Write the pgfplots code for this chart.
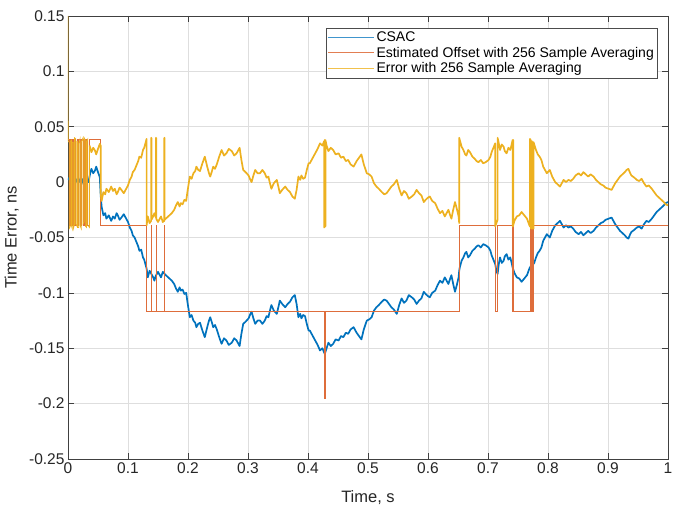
\documentclass[border=0pt]{standalone}
\usepackage{pgfplots}
\pgfplotsset{compat=1.18}
\usepackage{fontspec}
\setmainfont{Liberation Sans}
\definecolor{mblue}{rgb}{0,0.447,0.741}
\definecolor{morange}{rgb}{0.85,0.325,0.098}
\definecolor{myellow}{rgb}{0.929,0.694,0.125}
\definecolor{mtext}{rgb}{0.15,0.15,0.15}
\begin{document}
\begin{tikzpicture}
\begin{axis}[
  scale only axis, width=600pt, height=443pt,
  xmin=0, xmax=1, ymin=-0.25, ymax=0.15,
  xtick={0,0.1,...,1.01}, ytick={-0.25,-0.2,...,0.16},
  /pgf/number format/assume math mode=true,
  /pgf/number format/fixed, /pgf/number format/precision=2,
  tick label style={font=\fontsize{15.5}{17}\selectfont, text=mtext},
  label style={font=\fontsize{16.5}{18}\selectfont, text=mtext},
  xlabel={Time, s}, ylabel={Time Error, ns},
  xlabel style={at={(axis description cs:0.5,-0.088)}, anchor=center},
  ylabel style={at={(axis description cs:-0.094,0.5)}, anchor=center},
  grid=major, major grid style={color=black!13, line width=0.5pt},
  axis line style={color=black!75, line width=0.6pt},
  major tick length=6pt, tick style={color=black!75, line width=0.6pt},
  legend cell align=left,
  legend style={at={(rel axis cs:1,1)}, anchor=north east, xshift=-11pt, yshift=-12pt,
    font=\fontsize{14}{16}\selectfont, draw=black!70,
    inner xsep=1pt, inner ysep=2pt, row sep=1pt,
    nodes={inner xsep=2pt, inner ysep=1.5pt}},
  legend image code/.code={\draw[#1] (0pt,0pt) -- (46pt,0pt);},
]
\addlegendimage{draw=mblue!75, line width=0.9pt}
\addlegendentry{CSAC}
\addlegendimage{draw=morange!75, line width=0.9pt}
\addlegendentry{Estimated Offset with 256 Sample Averaging}
\addlegendimage{draw=myellow!80, line width=0.9pt}
\addlegendentry{Error with 256 Sample Averaging}
\addplot[draw=mblue, line width=1.7pt, line join=round, forget plot] coordinates {
(0.000,0.002)(0.003,0.0045)(0.006,0.001)(0.009,0.003)(0.012,-0.001)(0.014,0.0015)(0.017,0.004)(0.020,0.000)(0.023,0.003)(0.026,-0.002)(0.028,-0.003)(0.031,0.002)(0.034,0.000)(0.037,0.008)(0.039,0.012)(0.042,0.008)(0.045,0.0105)(0.047,0.014)(0.050,0.009)(0.053,0.0045)(0.0545,-0.012)(0.056,-0.022)(0.059,-0.030)(0.062,-0.028)(0.064,-0.033)(0.068,-0.030)(0.072,-0.035)(0.075,-0.031)(0.078,-0.033)(0.081,-0.028)(0.083,-0.030)(0.086,-0.034)(0.089,-0.032)(0.093,-0.029)(0.097,-0.033)(0.100,-0.036)(0.103,-0.041)(0.106,-0.044)(0.108,-0.048)(0.111,-0.050)(0.114,-0.054)(0.117,-0.058)(0.119,-0.062)(0.122,-0.061)(0.125,-0.068)(0.127,-0.070)(0.129,-0.074)(0.131,-0.078)(0.133,-0.086)(0.136,-0.080)(0.138,-0.082)(0.139,-0.083)(0.142,-0.086)(0.144,-0.089)(0.146,-0.085)(0.147,-0.084)(0.150,-0.081)(0.153,-0.084)(0.155,-0.086)(0.158,-0.081)(0.160,-0.082)(0.161,-0.083)
(0.165,-0.085)(0.169,-0.087)(0.173,-0.089)(0.177,-0.092)(0.180,-0.096)(0.183,-0.099)(0.186,-0.095)(0.188,-0.098)(0.191,-0.097)(0.194,-0.101)(0.197,-0.100)(0.199,-0.108)(0.203,-0.122)(0.206,-0.120)(0.209,-0.125)(0.212,-0.127)(0.214,-0.131)(0.217,-0.128)(0.220,-0.127)(0.224,-0.134)(0.228,-0.140)(0.232,-0.131)(0.235,-0.125)(0.237,-0.122)(0.240,-0.127)(0.242,-0.131)(0.245,-0.129)(0.248,-0.133)(0.252,-0.140)(0.256,-0.146)(0.260,-0.141)(0.264,-0.143)(0.268,-0.147)(0.273,-0.145)(0.277,-0.141)(0.281,-0.143)(0.284,-0.146)(0.286,-0.148)(0.289,-0.137)(0.292,-0.128)(0.296,-0.126)(0.301,-0.123)(0.304,-0.119)(0.306,-0.117)(0.309,-0.123)(0.312,-0.128)(0.316,-0.125)(0.320,-0.125)(0.324,-0.128)(0.328,-0.125)(0.331,-0.121)(0.334,-0.122)(0.337,-0.115)(0.339,-0.111)(0.343,-0.116)(0.348,-0.119)(0.351,-0.112)(0.353,-0.107)(0.357,-0.110)(0.362,-0.113)(0.366,-0.110)(0.370,-0.108)(0.374,-0.104)(0.378,-0.102)(0.381,-0.110)(0.384,-0.122)(0.387,-0.119)(0.389,-0.123)(0.392,-0.120)(0.395,-0.121)(0.398,-0.128)
(0.401,-0.134)(0.403,-0.134)(0.406,-0.137)(0.409,-0.140)(0.412,-0.143)(0.416,-0.147)(0.420,-0.152)(0.424,-0.150)(0.427,-0.154)(0.428,-0.155)(0.431,-0.150)(0.434,-0.145)(0.438,-0.148)(0.442,-0.146)(0.446,-0.142)(0.451,-0.143)(0.455,-0.139)(0.459,-0.140)(0.463,-0.136)(0.467,-0.137)(0.471,-0.133)(0.476,-0.131)(0.481,-0.136)(0.485,-0.139)(0.489,-0.142)(0.493,-0.133)(0.498,-0.125)(0.502,-0.124)(0.506,-0.122)(0.510,-0.116)(0.514,-0.113)(0.518,-0.111)(0.523,-0.108)(0.527,-0.106)(0.531,-0.107)(0.535,-0.110)(0.539,-0.113)(0.543,-0.115)(0.548,-0.119)(0.552,-0.111)(0.556,-0.105)(0.560,-0.109)(0.564,-0.107)(0.568,-0.102)(0.573,-0.104)(0.577,-0.106)(0.581,-0.110)(0.585,-0.107)(0.589,-0.105)(0.593,-0.099)(0.596,-0.101)(0.600,-0.103)(0.603,-0.104)(0.607,-0.100)(0.612,-0.098)(0.616,-0.093)(0.620,-0.089)(0.624,-0.091)(0.628,-0.086)(0.631,-0.089)(0.634,-0.092)(0.637,-0.087)(0.639,-0.084)(0.642,-0.092)(0.645,-0.099)(0.648,-0.093)(0.651,-0.086)(0.652,-0.080)(0.653,-0.077)(0.656,-0.071)(0.659,-0.068)(0.662,-0.064)(0.664,-0.063)(0.667,-0.068)(0.670,-0.066)(0.674,-0.062)(0.678,-0.060)(0.681,-0.058)(0.684,-0.057)(0.688,-0.059)(0.692,-0.056)(0.696,-0.057)
(0.701,-0.059)(0.704,-0.062)(0.706,-0.066)(0.709,-0.070)(0.712,-0.074)(0.714,-0.080)(0.716,-0.083)(0.718,-0.074)(0.720,-0.068)(0.723,-0.073)(0.726,-0.071)(0.728,-0.067)(0.731,-0.065)(0.734,-0.070)(0.737,-0.068)(0.739,-0.072)(0.741,-0.077)(0.744,-0.082)(0.748,-0.086)(0.752,-0.087)(0.756,-0.090)(0.759,-0.088)(0.762,-0.086)(0.765,-0.084)(0.767,-0.081)(0.769,-0.078)(0.771,-0.076)(0.774,-0.075)(0.777,-0.073)(0.780,-0.068)(0.783,-0.064)(0.786,-0.062)(0.789,-0.059)(0.792,-0.053)(0.795,-0.050)(0.798,-0.047)(0.803,-0.050)(0.807,-0.044)(0.812,-0.039)(0.816,-0.037)(0.820,-0.035)(0.823,-0.038)(0.826,-0.041)(0.830,-0.039)(0.834,-0.041)(0.838,-0.040)(0.842,-0.042)(0.846,-0.045)(0.851,-0.047)(0.855,-0.045)(0.859,-0.048)(0.863,-0.046)(0.867,-0.044)(0.871,-0.046)(0.876,-0.044)(0.880,-0.041)(0.884,-0.039)(0.888,-0.037)(0.892,-0.036)(0.896,-0.034)(0.901,-0.033)(0.906,-0.032)(0.909,-0.035)(0.912,-0.038)(0.916,-0.041)(0.920,-0.044)(0.924,-0.046)(0.928,-0.048)(0.931,-0.050)(0.934,-0.051)(0.937,-0.047)(0.939,-0.045)(0.944,-0.043)(0.948,-0.041)(0.952,-0.040)(0.956,-0.042)(0.960,-0.038)(0.964,-0.035)(0.968,-0.036)(0.973,-0.033)(0.977,-0.030)(0.981,-0.027)(0.985,-0.025)(0.989,-0.023)(0.993,-0.021)(0.996,-0.019)(1.000,-0.018)
};
\addplot[draw=morange!85, line width=0.8pt, forget plot] coordinates {
(0,0.039)(0.002,0.039)(0.002,-0.039)(0.004,-0.039)(0.004,0.039)(0.006,0.039)(0.006,-0.039)(0.007,-0.039)(0.007,0.039)(0.009,0.039)(0.009,-0.039)(0.011,-0.039)(0.011,0.039)(0.013,0.039)(0.013,-0.039)(0.015,-0.039)(0.015,0.039)(0.016,0.039)(0.016,-0.039)(0.018,-0.039)(0.018,0.039)(0.020,0.039)(0.020,-0.039)(0.022,-0.039)(0.022,0.039)(0.025,0.039)(0.025,-0.039)(0.027,-0.039)(0.027,0.039)(0.029,0.039)(0.029,-0.039)(0.031,-0.039)(0.031,0.039)(0.033,0.039)(0.033,-0.039)(0.036,-0.039)(0.036,0.039)
(0.0545,0.039)(0.0545,-0.039)(0.131,-0.039)(0.131,-0.117)(0.1385,-0.117)(0.1385,-0.039)(0.139,-0.039)(0.139,-0.117)(0.1465,-0.117)(0.1465,-0.039)(0.147,-0.039)(0.147,-0.117)(0.1605,-0.117)(0.1605,-0.039)(0.161,-0.039)(0.161,-0.117)
(0.427,-0.117)(0.427,-0.195)(0.4278,-0.195)(0.4278,-0.117)(0.4282,-0.117)(0.4282,-0.195)(0.429,-0.195)(0.429,-0.117)
(0.652,-0.117)(0.652,-0.039)(0.712,-0.039)(0.712,-0.117)(0.716,-0.117)(0.716,-0.039)(0.741,-0.039)(0.741,-0.117)(0.7415,-0.117)(0.7415,-0.039)(0.742,-0.039)(0.742,-0.117)
(0.770,-0.117)(0.770,-0.039)(0.771,-0.039)(0.771,-0.117)(0.772,-0.117)(0.772,-0.039)(0.773,-0.039)(0.773,-0.117)(0.774,-0.117)(0.774,-0.039)(0.775,-0.039)(0.775,-0.117)(0.776,-0.117)(0.776,-0.039)(1,-0.039)
};
\addplot[draw=myellow, line width=1.7pt, line join=round, forget plot] coordinates {
(0.036,0.033)(0.037,0.031)(0.039,0.027)(0.042,0.031)(0.045,0.0285)(0.047,0.025)(0.050,0.030)(0.053,0.0345)(0.0545,0.033)(0.0545,-0.010)(0.056,-0.017)(0.059,-0.009)(0.062,-0.011)(0.064,-0.006)(0.068,-0.009)(0.072,-0.004)(0.075,-0.008)(0.078,-0.006)(0.081,-0.011)(0.083,-0.009)(0.086,-0.005)(0.089,-0.007)(0.093,-0.010)(0.097,-0.006)(0.100,-0.003)(0.103,0.002)(0.106,0.005)(0.108,0.009)(0.111,0.011)(0.114,0.015)(0.117,0.019)(0.119,0.023)(0.122,0.022)(0.125,0.029)(0.127,0.031)(0.129,0.035)(0.131,0.039)(0.131,-0.039)
(0.133,-0.031)(0.136,-0.037)(0.1385,-0.035)(0.1385,0.040)(0.139,0.040)(0.139,-0.034)(0.142,-0.031)(0.144,-0.028)(0.1465,-0.032)(0.1465,0.040)(0.147,0.040)(0.147,-0.033)(0.150,-0.036)(0.153,-0.033)(0.155,-0.031)(0.158,-0.036)(0.1605,-0.035)(0.1605,0.040)(0.161,0.040)(0.161,-0.034)
(0.165,-0.032)(0.169,-0.030)(0.173,-0.028)(0.177,-0.025)(0.180,-0.021)(0.183,-0.018)(0.186,-0.022)(0.188,-0.019)(0.191,-0.020)(0.194,-0.016)(0.197,-0.017)(0.199,-0.009)(0.203,0.005)(0.206,0.003)(0.209,0.008)(0.212,0.010)(0.214,0.014)(0.217,0.011)(0.220,0.010)(0.224,0.017)(0.228,0.023)(0.232,0.014)(0.235,0.008)(0.237,0.005)(0.240,0.010)(0.242,0.014)(0.245,0.012)(0.248,0.016)(0.252,0.023)(0.256,0.029)(0.260,0.024)(0.264,0.026)(0.268,0.030)(0.273,0.028)(0.277,0.024)(0.281,0.026)(0.284,0.029)(0.286,0.031)(0.289,0.020)(0.292,0.011)(0.296,0.009)(0.301,0.006)(0.304,0.002)(0.306,0.000)(0.309,0.006)(0.312,0.011)(0.316,0.008)(0.320,0.008)(0.324,0.011)(0.328,0.008)(0.331,0.004)(0.334,0.005)(0.337,-0.002)(0.339,-0.006)(0.343,-0.001)(0.348,0.002)(0.351,-0.005)(0.353,-0.010)(0.357,-0.007)(0.362,-0.004)(0.366,-0.007)(0.370,-0.009)(0.374,-0.013)(0.378,-0.015)(0.381,-0.007)(0.384,0.005)(0.387,0.002)(0.389,0.006)(0.392,0.003)(0.395,0.004)(0.398,0.011)
(0.401,0.017)(0.403,0.017)(0.406,0.020)(0.409,0.023)(0.412,0.026)(0.416,0.030)(0.420,0.035)(0.424,0.033)(0.427,0.037)(0.427,-0.041)(0.4278,-0.040)(0.4278,0.038)(0.4282,0.038)(0.4282,-0.040)(0.429,-0.040)(0.429,0.038)(0.431,0.033)(0.434,0.028)(0.438,0.031)(0.442,0.029)(0.446,0.025)(0.451,0.026)(0.455,0.022)(0.459,0.023)(0.463,0.019)(0.467,0.020)(0.471,0.016)(0.476,0.014)(0.481,0.019)(0.485,0.022)(0.489,0.025)(0.493,0.016)(0.498,0.008)(0.502,0.007)(0.506,0.005)(0.510,-0.001)(0.514,-0.004)(0.518,-0.006)(0.523,-0.009)(0.527,-0.011)(0.531,-0.010)(0.535,-0.007)(0.539,-0.004)(0.543,-0.002)(0.548,0.002)(0.552,-0.006)(0.556,-0.012)(0.560,-0.008)(0.564,-0.010)(0.568,-0.015)(0.573,-0.013)(0.577,-0.011)(0.581,-0.007)(0.585,-0.010)(0.589,-0.012)(0.593,-0.018)(0.596,-0.016)(0.600,-0.014)(0.603,-0.013)(0.607,-0.017)(0.612,-0.019)(0.616,-0.024)(0.620,-0.028)(0.624,-0.026)(0.628,-0.031)(0.631,-0.028)(0.634,-0.025)(0.637,-0.030)(0.639,-0.033)(0.642,-0.025)(0.645,-0.018)(0.648,-0.024)(0.651,-0.031)(0.652,-0.037)(0.652,0.040)
(0.653,0.038)(0.656,0.032)(0.659,0.029)(0.662,0.025)(0.664,0.024)(0.667,0.029)(0.670,0.027)(0.674,0.023)(0.678,0.021)(0.681,0.019)(0.684,0.018)(0.688,0.020)(0.692,0.017)(0.696,0.018)(0.701,0.020)(0.704,0.023)(0.706,0.027)(0.709,0.031)(0.712,0.035)(0.712,-0.040)(0.714,-0.037)(0.716,-0.034)(0.716,0.040)(0.718,0.035)(0.720,0.029)(0.723,0.034)(0.726,0.032)(0.728,0.028)(0.731,0.026)(0.734,0.031)(0.737,0.029)(0.739,0.033)(0.741,0.038)(0.741,-0.040)(0.7415,-0.040)(0.7415,0.038)(0.742,0.038)(0.742,-0.039)
(0.744,-0.035)(0.748,-0.031)(0.752,-0.030)(0.756,-0.027)(0.759,-0.029)(0.762,-0.031)(0.765,-0.033)(0.767,-0.036)(0.769,-0.039)(0.770,-0.040)(0.770,0.039)(0.771,0.038)(0.771,-0.041)(0.772,-0.042)(0.772,0.037)(0.773,0.037)(0.773,-0.042)(0.774,-0.042)(0.774,0.036)(0.775,0.036)(0.775,-0.042)(0.776,-0.042)(0.776,0.036)
(0.777,0.034)(0.780,0.029)(0.783,0.025)(0.786,0.023)(0.789,0.020)(0.792,0.014)(0.795,0.011)(0.798,0.008)(0.803,0.011)(0.807,0.005)(0.812,0.000)(0.816,-0.002)(0.820,-0.004)(0.823,-0.001)(0.826,0.002)(0.830,0.000)(0.834,0.002)(0.838,0.001)(0.842,0.003)(0.846,0.006)(0.851,0.008)(0.855,0.006)(0.859,0.009)(0.863,0.007)(0.867,0.005)(0.871,0.007)(0.876,0.005)(0.880,0.002)(0.884,0.000)(0.888,-0.002)(0.892,-0.003)(0.896,-0.005)(0.901,-0.006)(0.906,-0.007)(0.909,-0.004)(0.912,-0.001)(0.916,0.002)(0.920,0.005)(0.924,0.007)(0.928,0.009)(0.931,0.011)(0.934,0.012)(0.937,0.008)(0.939,0.006)(0.944,0.004)(0.948,0.002)(0.952,0.001)(0.956,0.003)(0.960,-0.001)(0.964,-0.004)(0.968,-0.003)(0.973,-0.006)(0.977,-0.009)(0.981,-0.012)(0.985,-0.014)(0.989,-0.016)(0.993,-0.018)(0.996,-0.020)(1.000,-0.021)
};
\addplot[draw=myellow, line width=0.7pt, forget plot] coordinates {
(0,0.15)(0.0003,0.037)(0.002,0.036)(0.002,-0.042)(0.004,-0.040)(0.004,0.037)(0.006,0.038)(0.006,-0.040)(0.007,-0.042)(0.007,0.036)(0.009,0.036)(0.009,-0.042)(0.011,-0.038)(0.011,0.040)(0.013,0.039)(0.013,-0.038)(0.015,-0.040)(0.015,0.037)(0.016,0.037)(0.016,-0.041)(0.018,-0.041)(0.018,0.035)(0.020,0.039)(0.020,-0.039)(0.022,-0.042)(0.022,0.036)(0.025,0.040)(0.025,-0.038)(0.027,-0.036)(0.027,0.040)(0.029,0.038)(0.029,-0.040)(0.031,-0.041)(0.031,0.037)(0.033,0.039)(0.033,-0.039)(0.036,-0.041)(0.036,0.033)
};
\end{axis}
\path ([xshift=-68pt,yshift=-54pt]current axis.south west) rectangle ([xshift=17pt,yshift=16pt]current axis.north east);
\end{tikzpicture}
\end{document}
